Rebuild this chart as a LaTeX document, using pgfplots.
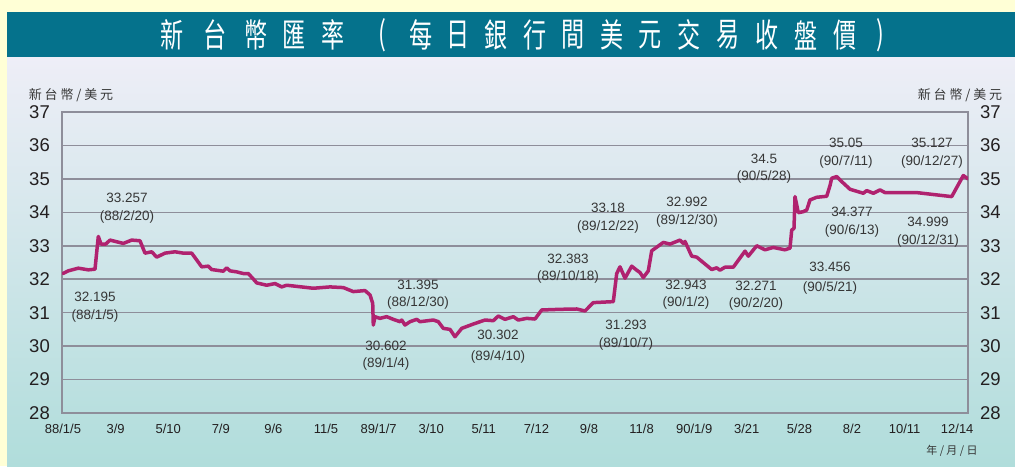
\documentclass[border=0pt]{standalone}
\usepackage{fontspec}
\setmainfont{Liberation Sans}
\newfontfamily\cjk{Noto Sans CJK TC}
\newfontfamily\cjkl[LetterSpace=22]{Noto Sans CJK TC}
\usepackage{graphicx}
\usepackage{pgfplots}
\pgfplotsset{compat=1.18}
\definecolor{bgyellow}{HTML}{FFFFD6}
\definecolor{banner}{HTML}{05728C}
\definecolor{gtop}{HTML}{EEEEF7}
\definecolor{gmid}{HTML}{DAE6EC}
\definecolor{gbot}{HTML}{B0DDDB}
\definecolor{gridc}{HTML}{8E8E9A}
\definecolor{linec}{HTML}{B0226F}
\definecolor{txt}{HTML}{363636}
\definecolor{tick}{HTML}{231F20}
\def\lp{(}
\def\rp{)}

\pgfplotstableread{
x y
63 32.17
68.3 32.25
78.3 32.33
88.3 32.28
95 32.30
98.3 33.28
101 33.05
105.7 33.05
110 33.17
123.3 33.07
131.7 33.17
140 33.15
145 32.78
151.7 32.82
156.7 32.66
165 32.78
175 32.82
183.3 32.78
191.7 32.78
201.7 32.37
208.3 32.39
211.7 32.29
223.3 32.24
226.7 32.34
230 32.25
236.7 32.22
243.3 32.17
248.3 32.17
255 31.95
256.7 31.89
266.7 31.82
275 31.87
281.7 31.77
286.7 31.82
313.3 31.73
330 31.77
343.3 31.75
353.3 31.63
365 31.66
370 31.53
372.7 31.28
373.3 30.63
375 30.88
380 30.83
386.7 30.88
393.3 30.80
400 30.73
401.7 30.78
405 30.63
410 30.73
416.7 30.80
420 30.73
433.3 30.78
438.3 30.73
443.3 30.53
450 30.50
455 30.28
461.7 30.53
473.3 30.66
485 30.78
493.3 30.76
498.3 30.90
505 30.80
513.3 30.88
518.3 30.78
526.7 30.83
535 30.81
541.7 31.08
560 31.10
576.7 31.11
585 31.05
593.3 31.30
613.3 31.33
616.7 32.17
620 32.37
625 32.03
631.7 32.39
636.7 32.27
640 32.20
643.3 32.05
648.3 32.25
651.7 32.85
663.3 33.10
670 33.05
680 33.17
683.3 33.07
685 33.13
691.7 32.69
696.7 32.66
711.7 32.29
716.7 32.34
720 32.27
725 32.36
733.3 32.36
745 32.84
748.3 32.69
756.7 33.00
765 32.88
773.3 32.95
785 32.88
790 32.93
791.7 33.47
794 33.52
795 34.47
798.3 33.99
803.3 34.02
806.7 34.07
810 34.37
816.7 34.45
826.7 34.48
830 34.80
831.7 35.02
836.7 35.07
841.7 34.92
850 34.69
863.3 34.57
866.7 34.65
873.3 34.57
880 34.67
885 34.59
916.7 34.59
951.7 34.47
963.3 35.10
968 35.00
}\rates

\begin{document}
\begin{tikzpicture}[x=1pt,y=1pt]
\useasboundingbox (0,0) rectangle (1015,466);
\fill[bgyellow] (0,0) rectangle (1015,466);
\shade[top color=gtop, middle color=gmid, bottom color=gbot] (7,0) rectangle (1015,409);
\fill[banner] (7,409) rectangle (1015,454);
\foreach \c/\px in {新/172,台/215,幣/256,匯/294,率/333,\lp/382,每/421,日/458,銀/496,行/535,間/573,美/612,元/650,交/689,易/728,收/767,盤/806,價/845,\rp/880}
  \node[text=white, font=\cjk\fontsize{33}{33}\selectfont, inner sep=0pt, xscale=0.7, transform shape] at (\px,431) {\c};
\node[text=txt, font=\cjkl\fontsize{13}{13}\selectfont] at (71,371) {新台幣/美元};
\node[text=txt, font=\cjkl\fontsize{13}{13}\selectfont] at (960,371) {新台幣/美元};
\node[text=txt, font=\cjkl\fontsize{11}{11}\selectfont] at (952,15) {年/月/日};

\begin{axis}[
  at={(62pt,53pt)}, anchor=south west, scale only axis,
  width=906pt, height=301pt,
  xmin=62, xmax=968, ymin=28, ymax=37,
  ytick={28,29,...,37},
  xtick={63,115.6,168.2,220.8,273.4,326,378.6,431.2,483.8,536.4,589,641.6,694.2,746.8,799.4,852,904.6,957.2},
  xticklabels={88/1/5,3/9,5/10,7/9,9/6,11/5,89/1/7,3/10,5/11,7/12,9/8,11/8,90/1/9,3/21,5/28,8/2,10/11,12/14},
  major tick length=0pt,
  axis line style={draw=gridc, line width=2pt},
  ymajorgrids, grid style={draw=gridc, line width=1.6pt},
  /pgf/number format/assume math mode=true,
  yticklabel style={font=\fontsize{18.5}{18.5}\selectfont, text=tick, inner sep=0pt, anchor=east, xshift=-12pt},
  xticklabel style={font=\fontsize{13}{13}\selectfont, text=tick, inner sep=0pt, anchor=base, yshift=-20.5pt},
  clip=true,
]
\addplot[linec, line width=3.5pt, line join=round, line cap=round] table[x=x,y=y] {\rates};
\begin{scope}[every node/.style={text=txt, align=center, font=\fontsize{13.5}{17.5}\selectfont, inner sep=0pt}]
\node at (axis cs:95,31.17) {32.195\\(88/1/5)};
\node at (axis cs:127,34.13) {33.257\\(88/2/20)};
\node at (axis cs:418,31.54) {31.395\\(88/12/30)};
\node at (axis cs:386,29.72) {30.602\\(89/1/4)};
\node[font=\fontsize{13.5}{21}\selectfont] at (axis cs:498,29.99) {30.302\\(89/4/10)};
\node at (axis cs:568,32.32) {32.383\\(89/10/18)};
\node at (axis cs:626,30.32) {31.293\\(89/10/7)};
\node at (axis cs:608,33.82) {33.18\\(89/12/22)};
\node at (axis cs:687,34.00) {32.992\\(89/12/30)};
\node at (axis cs:686,31.54) {32.943\\(90/1/2)};
\node at (axis cs:756,31.51) {32.271\\(90/2/20)};
\node at (axis cs:764,35.30) {34.5\\(90/5/28)};
\node[font=\fontsize{13.5}{20}\selectfont] at (axis cs:830,32.04) {33.456\\(90/5/21)};
\node at (axis cs:846,35.77) {35.05\\(90/7/11)};
\node at (axis cs:852,33.71) {34.377\\(90/6/13)};
\node at (axis cs:932,35.77) {35.127\\(90/12/27)};
\node at (axis cs:928,33.41) {34.999\\(90/12/31)};
\end{scope}
\end{axis}

\begin{axis}[
  at={(62pt,53pt)}, anchor=south west, scale only axis,
  width=906pt, height=301pt,
  xmin=62, xmax=968, ymin=28, ymax=37,
  ytick={28,29,...,37}, xtick=\empty,
  yticklabel pos=right,
  major tick length=0pt,
  axis line style={draw=none},
  /pgf/number format/assume math mode=true,
  yticklabel style={font=\fontsize{18.5}{18.5}\selectfont, text=tick, inner sep=0pt, anchor=west, xshift=12pt},
]
\end{axis}
\end{tikzpicture}
\end{document}
